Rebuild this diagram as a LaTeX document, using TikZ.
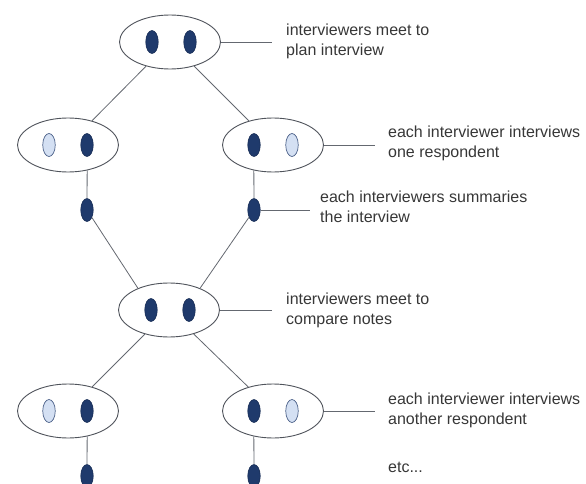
\documentclass[tikz,border=0pt]{standalone}
\usepackage{fontspec}
\setmainfont{Liberation Sans}
\usetikzlibrary{shapes,positioning}
\definecolor{dotblue}{RGB}{31,58,108}
\definecolor{dotpale}{RGB}{212,224,243}
\definecolor{rim}{RGB}{80,84,92}
\definecolor{wire}{RGB}{100,104,112}
\definecolor{txt}{RGB}{55,55,55}

\begin{document}
\begin{tikzpicture}[x=1pt,y=-1pt,
  group/.style={ellipse,draw=rim,line width=0.9pt,fill=white,minimum width=101pt,minimum height=54pt,inner sep=0pt},
  dark/.style={ellipse,draw=dotblue!80!black,line width=0.6pt,fill=dotblue,minimum width=12.5pt,minimum height=23pt,inner sep=0pt},
  pale/.style={ellipse,draw=dotblue!80!white,line width=0.7pt,fill=dotpale,minimum width=12.5pt,minimum height=23pt,inner sep=0pt},
  link/.style={draw=wire,line width=0.8pt},
  note/.style={anchor=west,align=left,inner sep=0pt,text=txt,font=\fontsize{16}{20}\selectfont}]
\useasboundingbox (0,0) rectangle (586,484);

\node[group] (top) at (170,42) {};
\node[group] (l1) at (68,145) {};
\node[group] (r1) at (273,145) {};
\node[group] (mid) at (169,310) {};
\node[group] (l2) at (68,411) {};
\node[group] (r2) at (273,411) {};

\node[dark] (top-a) at (152,42) {};
\node[dark] (top-b) at (190,42) {};
\node[pale] (l1-a) at (49,145) {};
\node[dark] (l1-b) at (87,145) {};
\node[dark] (r1-a) at (254,145) {};
\node[pale] (r1-b) at (292,145) {};
\node[dark] (mid-a) at (151,310) {};
\node[dark] (mid-b) at (189,310) {};
\node[pale] (l2-a) at (49,411) {};
\node[dark] (l2-b) at (87,411) {};
\node[dark] (r2-a) at (254,411) {};
\node[pale] (r2-b) at (292,411) {};

\node[dark] (l1s) at (87,210) {};
\node[dark] (r1s) at (254,210) {};
\node[dark] (l2s) at (87,476) {};
\node[dark] (r2s) at (254,476) {};

\node[note] (ttop) at (286,41) {interviewers meet to\\plan interview};
\node[note] (tr1) at (388,143) {each interviewer interviews\\one respondent};
\node[note] (tsum) at (320,207) {each interviewers summaries\\the interview};
\node[note] (tmid) at (286,310) {interviewers meet to\\compare notes};
\node[note] (tr2) at (388,410) {each interviewer interviews\\another respondent};
\node[note] (tetc) at (388,467) {etc...};

\draw[link] (top) -- (l1);
\draw[link] (top) -- (r1);
\draw[link] (l1.-53) -- (l1s);
\draw[link] (r1.-127) -- (r1s);
\draw[link] (l1s) -- (mid.145);
\draw[link] (r1s) -- (mid.35);
\draw[link] (mid) -- (l2);
\draw[link] (mid) -- (r2);
\draw[link] (l2.-53) -- (l2s);
\draw[link] (r2.-127) -- (r2s);

\draw[link,shorten >=14pt] (top.east) -- (ttop.west |- top.east);
\draw[link,shorten >=13pt] (r1.east) -- (tr1.west |- r1.east);
\draw[link,shorten >=10pt] (r1s.east) -- (tsum.west |- r1s.east);
\draw[link,shorten >=14pt] (mid.east) -- (tmid.west |- mid.east);
\draw[link,shorten >=13pt] (r2.east) -- (tr2.west |- r2.east);

\end{tikzpicture}
\end{document}
